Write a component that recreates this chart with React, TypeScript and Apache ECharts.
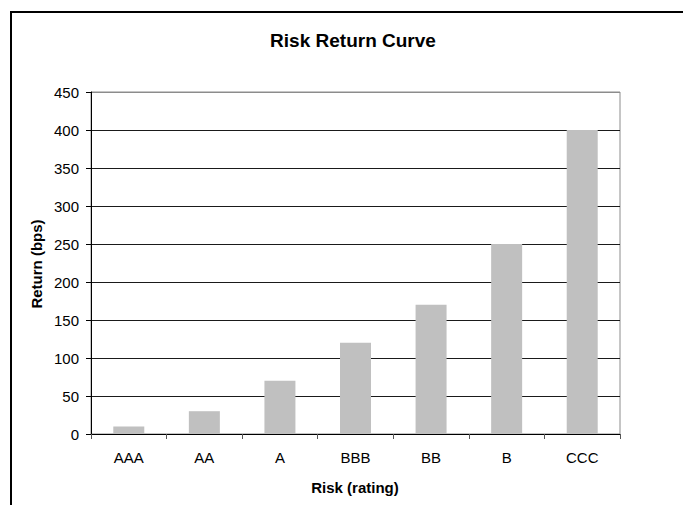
import React, { useEffect, useRef } from "react";
import * as echarts from "echarts";

const categories = ["AAA", "AA", "A", "BBB", "BB", "B", "CCC"];
const returnsBps = [10, 30, 70, 120, 170, 250, 400];
const yTicks = { min: 0, max: 450, interval: 50 };
const chartTitle = "Risk Return Curve";
const xTitle = "Risk (rating)";
const yTitle = "Return (bps)";

const FONT = "'Liberation Sans', Arial, sans-serif";

export default function App() {
  const ref = useRef<HTMLDivElement>(null);
  useEffect(() => {
    document.body.style.margin = "0";
    const chart = echarts.init(ref.current!, null, { renderer: "svg" });
    const splitColors = Array.from({ length: 10 }, (_, i) => (i === 9 ? "#8c8c8c" : "#1a1a1a"));
    chart.setOption({
      animation: false,
      backgroundColor: "#ffffff",
      grid: {
        left: 91,
        right: 63,
        top: 92,
        bottom: 71,
        show: true,
        borderColor: "#8c8c8c",
        borderWidth: 1,
        containLabel: false,
      },
      xAxis: {
        type: "category",
        data: categories,
        boundaryGap: true,
        axisLine: { show: true, lineStyle: { color: "#000", width: 1 } },
        axisTick: { show: true, length: 5, alignWithLabel: false, lineStyle: { color: "#555" } },
        axisLabel: { color: "#000", fontFamily: FONT, fontSize: 15, margin: 16 },
        splitLine: { show: false },
      },
      yAxis: {
        type: "value",
        min: yTicks.min,
        max: yTicks.max,
        interval: yTicks.interval,
        axisLine: { show: true, lineStyle: { color: "#000", width: 1 } },
        axisTick: { show: true, length: 5, lineStyle: { color: "#000" } },
        axisLabel: { color: "#000", fontFamily: FONT, fontSize: 15, margin: 12 },
        splitLine: { show: true, lineStyle: { color: splitColors, width: 1 } },
      },
      series: [
        {
          type: "bar",
          data: returnsBps,
          barWidth: 31,
          itemStyle: { color: "#c0c0c0" },
        },
      ],
      graphic: [
        {
          type: "rect",
          shape: { x: 11, y: 12, width: 800, height: 700 },
          style: { fill: "none", stroke: "#000", lineWidth: 2 },
          silent: true,
        },
        {
          type: "text",
          x: 353,
          y: 40,
          style: {
            text: chartTitle,
            align: "center",
            verticalAlign: "middle",
            font: `bold 19px ${FONT}`,
            fill: "#000",
          },
        },
        {
          type: "text",
          x: 355,
          y: 487,
          style: {
            text: xTitle,
            align: "center",
            verticalAlign: "middle",
            font: `bold 15px ${FONT}`,
            fill: "#000",
          },
        },
        {
          type: "text",
          x: 36.5,
          y: 264,
          rotation: Math.PI / 2,
          style: {
            text: yTitle,
            align: "center",
            verticalAlign: "middle",
            font: `bold 15px ${FONT}`,
            fill: "#000",
          },
        },
      ],
    });
    return () => chart.dispose();
  }, []);
  return <div ref={ref} style={{ width: 683, height: 505 }} />;
}
